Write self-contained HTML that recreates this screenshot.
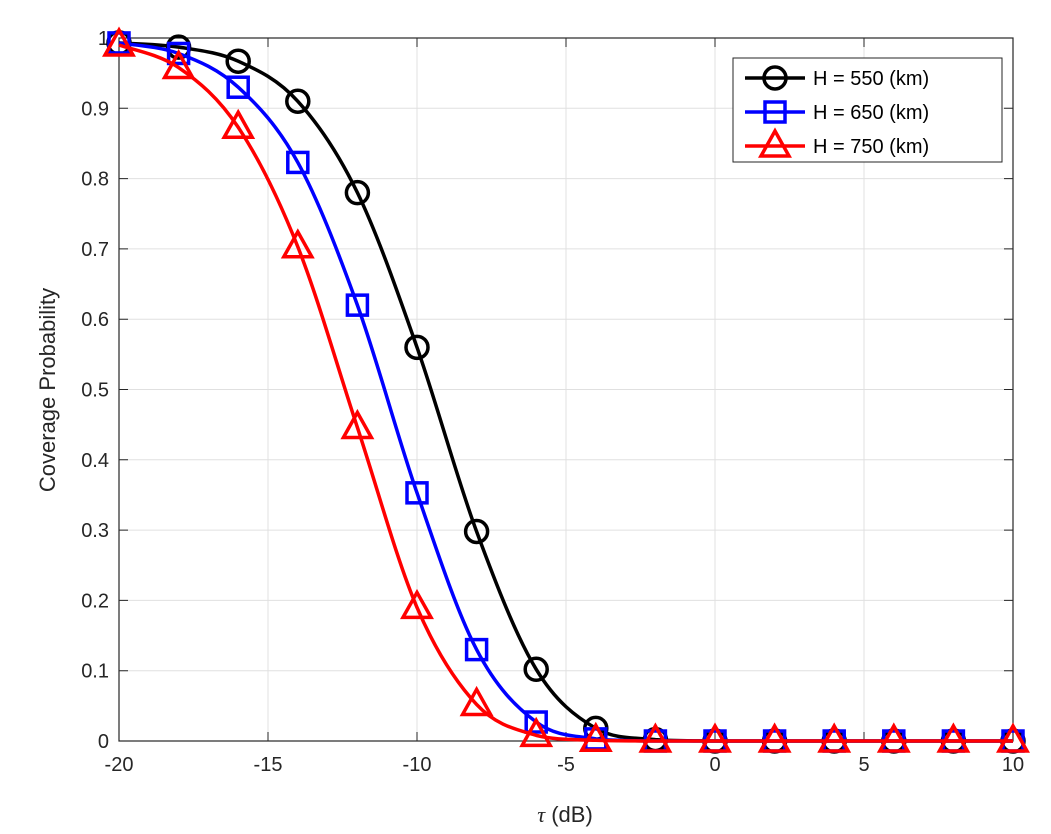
<!DOCTYPE html>
<html><head><meta charset="utf-8"><style>
body{margin:0;background:#fff;}
svg{display:block;font-family:"Liberation Sans",sans-serif;}
</style></head><body>
<svg id="chart" width="1051" height="834" viewBox="0 0 1051 834" xmlns="http://www.w3.org/2000/svg">
<g id="grid"></g>
<g id="axes"></g>
<g id="series"></g>
<text x="565" y="822" font-size="22" text-anchor="middle" fill="#262626"><tspan font-family="Liberation Serif" font-style="italic">τ</tspan> (dB)</text>
<text transform="translate(55,390) rotate(-90)" font-size="22" text-anchor="middle" fill="#262626">Coverage Probability</text>
<g id="legend"></g>
</svg>
<script>
const xValues=[-20,-18,-16,-14,-12,-10,-8,-6,-4,-2,0,2,4,6,8,10];
const h550=[0.993,0.987,0.967,0.91,0.78,0.56,0.298,0.102,0.018,0.002,0,0,0,0,0,0];
const h650=[0.993,0.978,0.93,0.823,0.62,0.353,0.13,0.027,0.003,0,0,0,0,0,0,0];
const h750=[0.99,0.958,0.873,0.703,0.446,0.19,0.052,0.008,0.001,0,0,0,0,0,0,0];
const xTicks=[-20,-15,-10,-5,0,5,10];
const yTicks=[0,0.1,0.2,0.3,0.4,0.5,0.6,0.7,0.8,0.9,1];
const seriesNames=["H = 550 (km)","H = 650 (km)","H = 750 (km)"];
const L=119,R=1013,T=38,B=741;
const sx=v=>L+(v+20)/30*(R-L);
const sy=v=>B-v*(B-T);
const NS="http://www.w3.org/2000/svg";
function mk(tag,attrs,parent){const e=document.createElementNS(NS,tag);for(const k in attrs)e.setAttribute(k,attrs[k]);parent.appendChild(e);return e;}
const grid=document.getElementById('grid'),axes=document.getElementById('axes'),ser=document.getElementById('series'),leg=document.getElementById('legend');
xTicks.forEach(t=>{
 const g=mk('line',{x1:sx(t),x2:sx(t),y1:T,y2:B,stroke:'#e0e0e0','stroke-width':1},grid);
 
 
 const tk=mk('path',{d:`M${sx(t)},${B}v-9M${sx(t)},${T}v9`,stroke:'#262626','stroke-width':1},axes);
 
 
 const tx=mk('text',{x:sx(t),y:B+30,'font-size':20,'text-anchor':'middle',fill:'#262626'},axes);
 tx.textContent=String(t);
 
 
});
yTicks.forEach(t=>{
 const g=mk('line',{x1:L,x2:R,y1:sy(t),y2:sy(t),stroke:'#e0e0e0','stroke-width':1},grid);
 
 
 const tk=mk('path',{d:`M${L},${sy(t)}h9M${R},${sy(t)}h-9`,stroke:'#262626','stroke-width':1},axes);
 
 
 const tx=mk('text',{x:L-10,y:sy(t)+7,'font-size':20,'text-anchor':'end',fill:'#262626'},axes);
 tx.textContent=String(t);
 
 
});
const frame=mk('rect',{x:L,y:T,width:R-L,height:B-T,fill:'none',stroke:'#262626','stroke-width':1.2},axes);


function smoothPath(pts){
 let d=`M${pts[0][0]},${pts[0][1]}`;
 for(let i=0;i<pts.length-1;i++){
  const p0=pts[Math.max(i-1,0)],p1=pts[i],p2=pts[i+1],p3=pts[Math.min(i+2,pts.length-1)];
  let c1y=p1[1]+(p2[1]-p0[1])/6,c2y=p2[1]-(p3[1]-p1[1])/6;
  c1y=Math.min(Math.max(c1y,Math.min(p1[1],p2[1])),Math.max(p1[1],p2[1]));
  c2y=Math.min(Math.max(c2y,Math.min(p1[1],p2[1])),Math.max(p1[1],p2[1]));
  d+=`C${p1[0]+(p2[0]-p0[0])/6},${c1y} ${p2[0]-(p3[0]-p1[0])/6},${c2y} ${p2[0]},${p2[1]}`;
 }
 return d;
}
function marker(type,x,y,color,parent){
 let m;
 if(type==='circle')m=mk('circle',{cx:x,cy:y,r:11,fill:'none',stroke:color,'stroke-width':3.5},parent);
 else if(type==='square')m=mk('rect',{x:x-10,y:y-10,width:20,height:20,fill:'none',stroke:color,'stroke-width':3.5},parent);
 else m=mk('path',{d:`M${x},${y-15}L${x+14},${y+10}L${x-14},${y+10}Z`,fill:'none',stroke:color,'stroke-width':3.5},parent);
 return m;
}
const defs=[[h550,'#000','circle'],[h650,'#0000ff','square'],[h750,'#ff0000','triangle']];
defs.forEach(([vals,color,type],si)=>{
 const g=mk('g',{},ser);
 
 
 const pts=xValues.map((x,i)=>[sx(x),sy(vals[i])]);
 const ln=mk('path',{d:smoothPath(pts),fill:'none',stroke:color,'stroke-width':3.5},g);
 
 
 pts.forEach(p=>{
  const m=marker(type,p[0],p[1],color,g);
  
  
 });
});
const lb=mk('rect',{x:733,y:58,width:269,height:104,fill:'#fff',stroke:'#262626','stroke-width':1},leg);


defs.forEach(([vals,color,type],i)=>{
 const y=78+i*34;
 const g=mk('g',{},leg);
 
 
 mk('line',{x1:745,x2:805,y1:y,y2:y,stroke:color,'stroke-width':3.5},g);
 marker(type,775,y,color,g);
 const t=mk('text',{x:813,y:y+7,'font-size':20,fill:'#000'},g);
 t.textContent=seriesNames[i];
});
</script>
</body></html>
